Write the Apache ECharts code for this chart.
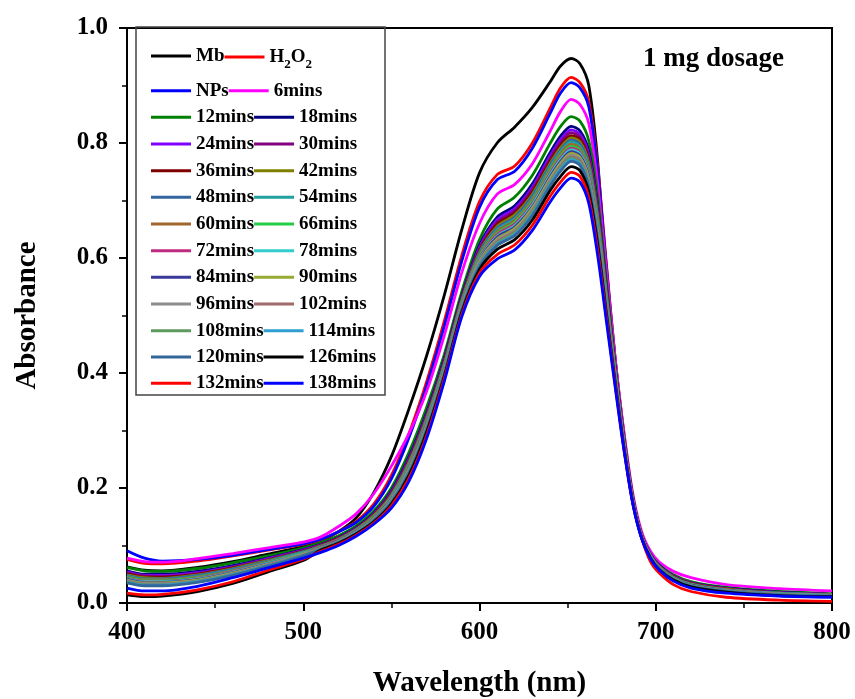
<!DOCTYPE html>
<html><head><meta charset="utf-8">
<script src="https://cdn.jsdelivr.net/npm/echarts@6.0.0/dist/echarts.min.js"></script>
<style>html,body{margin:0;padding:0;background:#fff}#c{width:855px;height:699px}</style>
</head><body><div id="c"></div>
<script>
const wavelengths = [400,410,420,440,460,480,500,510,520,530,540,550,560,570,580,590,600,610,620,630,640,646,652,657,662,667,672,677,682,687,692,697,702,710,720,740,770,800];
const xTicks = [400,500,600,700,800];
const yTicks = [0.0,0.2,0.4,0.6,0.8,1.0];
const seriesNames = ['Mb','H2O2','NPs','6mins','12mins','18mins','24mins','30mins','36mins','42mins','48mins','54mins','60mins','66mins','72mins','78mins','84mins','90mins','96mins','102mins','108mins','114mins','120mins','126mins','132mins','138mins'];
const seriesColors = ['#000000','#FF0000','#0000FF','#FF00FF','#008000','#000080','#8000FF','#800080','#800000','#808000','#3366A0','#20A0A0','#A0662B','#22CC44','#C02A80','#33CCCC','#3A3A9A','#99AA33','#8C8C8C','#A06A6A','#5E9A5E','#2E9FD0','#336699','#000000','#FF0000','#0000FF'];

const mb   = [.063,.057,.056,.062,.072,.085,.098,.107,.124,.148,.192,.255,.338,.430,.535,.650,.748,.800,.828,.862,.906,.934,.947,.938,.900,.770,.560,.405,.282,.178,.113,.080,.062,.044,.032,.023,.016,.012];
const h2o2 = [.076,.069,.068,.073,.082,.092,.102,.110,.124,.142,.172,.222,.295,.385,.490,.605,.698,.745,.760,.800,.860,.896,.914,.905,.872,.760,.590,.425,.293,.185,.118,.082,.062,.046,.035,.026,.019,.014];
const nps  = [.091,.078,.073,.076,.083,.093,.103,.111,.124,.140,.168,.216,.288,.377,.481,.595,.688,.736,.751,.791,.851,.887,.905,.896,.863,.752,.585,.422,.291,.184,.118,.083,.063,.047,.035,.025,.017,.013];
const m6   = [.078,.072,.071,.077,.086,.096,.106,.115,.133,.155,.190,.238,.295,.368,.465,.575,.660,.711,.728,.764,.820,.855,.876,.867,.834,.730,.578,.425,.296,.190,.124,.090,.071,.055,.044,.032,.025,.021];
const m12  = [.062,.056,.055,.060,.070,.082,.096,.105,.117,.134,.160,.200,.262,.340,.432,.542,.632,.685,.706,.744,.799,.829,.846,.838,.804,.710,.562,.415,.288,.184,.119,.085,.066,.049,.037,.027,.020,.016];
const m18  = [.056,.050,.050,.055,.065,.078,.093,.102,.114,.131,.156,.195,.254,.331,.425,.535,.622,.671,.691,.729,.783,.812,.829,.821,.786,.693,.550,.409,.284,.182,.118,.084,.065,.047,.035,.026,.019,.015];
const m24  = [.054,.048,.048,.053,.063,.077,.092,.101,.113,.130,.155,.193,.251,.328,.422,.532,.618,.666,.686,.723,.777,.806,.823,.815,.780,.687,.546,.406,.283,.181,.118,.083,.064,.047,.035,.025,.018,.015];
const m30  = [.052,.047,.046,.051,.062,.076,.091,.101,.113,.129,.154,.191,.249,.326,.420,.531,.615,.662,.682,.719,.772,.801,.818,.810,.775,.682,.543,.405,.282,.181,.117,.083,.063,.046,.034,.025,.018,.015];
const m36  = [.051,.045,.045,.050,.061,.074,.090,.100,.112,.129,.153,.190,.247,.324,.418,.529,.612,.659,.678,.715,.768,.796,.813,.806,.770,.678,.540,.403,.281,.180,.117,.082,.063,.046,.034,.024,.017,.014];
const m42  = [.049,.044,.043,.049,.060,.074,.089,.099,.111,.128,.152,.188,.245,.322,.416,.527,.610,.655,.675,.711,.764,.792,.809,.802,.766,.674,.537,.401,.280,.180,.117,.082,.063,.045,.033,.024,.017,.014];
const m48  = [.048,.042,.042,.048,.059,.073,.089,.099,.111,.127,.151,.187,.243,.320,.414,.525,.608,.652,.671,.708,.761,.788,.805,.798,.762,.670,.534,.400,.279,.179,.116,.082,.062,.045,.033,.023,.017,.014];
const m54  = [.047,.041,.041,.046,.057,.072,.088,.098,.110,.127,.150,.186,.242,.318,.413,.524,.605,.649,.668,.704,.757,.785,.802,.794,.758,.666,.532,.399,.278,.179,.116,.082,.062,.044,.032,.023,.017,.014];
const m60  = [.045,.040,.040,.045,.056,.071,.087,.098,.110,.126,.150,.185,.240,.316,.411,.522,.603,.646,.665,.701,.753,.781,.798,.790,.754,.662,.529,.397,.278,.178,.116,.081,.062,.044,.032,.023,.016,.014];
const m66  = [.044,.039,.039,.044,.055,.070,.087,.097,.109,.125,.149,.184,.238,.314,.410,.521,.601,.643,.662,.698,.750,.777,.794,.787,.751,.659,.527,.396,.277,.178,.116,.081,.061,.044,.032,.022,.016,.013];
const m72  = [.043,.038,.038,.043,.055,.069,.086,.097,.109,.125,.148,.183,.237,.313,.408,.520,.599,.641,.659,.695,.747,.774,.791,.784,.748,.656,.525,.395,.276,.178,.116,.081,.061,.043,.031,.022,.016,.013];
const m78  = [.042,.037,.037,.042,.054,.069,.086,.096,.108,.124,.147,.182,.235,.311,.407,.518,.597,.638,.656,.692,.744,.771,.788,.781,.745,.653,.523,.394,.275,.177,.115,.081,.061,.043,.031,.022,.016,.013];
const m84  = [.041,.036,.036,.041,.053,.068,.085,.096,.108,.124,.147,.181,.234,.310,.406,.517,.595,.636,.654,.689,.741,.768,.785,.778,.742,.650,.521,.392,.275,.177,.115,.080,.061,.043,.031,.022,.015,.013];
const m90  = [.040,.035,.035,.040,.052,.067,.085,.095,.107,.123,.146,.180,.233,.308,.404,.516,.594,.633,.651,.687,.738,.765,.782,.775,.738,.647,.519,.391,.274,.177,.115,.080,.060,.042,.030,.021,.015,.013];
const m96  = [.039,.034,.034,.039,.051,.067,.084,.095,.107,.123,.145,.179,.231,.307,.403,.515,.592,.631,.648,.684,.735,.762,.779,.772,.735,.644,.516,.390,.273,.176,.115,.080,.060,.042,.030,.021,.015,.013];
const m102 = [.038,.033,.033,.038,.050,.066,.083,.094,.106,.122,.145,.178,.230,.305,.401,.513,.590,.628,.646,.681,.732,.759,.776,.769,.732,.641,.514,.389,.273,.176,.115,.080,.060,.042,.030,.021,.015,.012];
const m108 = [.037,.032,.032,.038,.050,.065,.083,.094,.106,.122,.144,.177,.229,.304,.400,.512,.588,.626,.644,.679,.730,.757,.774,.766,.730,.638,.513,.388,.272,.176,.114,.079,.059,.042,.030,.021,.014,.012];
const m114 = [.036,.031,.031,.037,.049,.065,.082,.093,.105,.122,.144,.176,.227,.302,.399,.511,.587,.624,.641,.676,.728,.754,.771,.764,.727,.636,.511,.387,.272,.175,.114,.079,.059,.041,.029,.020,.014,.012];
const m120 = [.035,.030,.030,.036,.048,.064,.082,.093,.105,.121,.143,.175,.226,.301,.398,.510,.585,.622,.639,.674,.725,.751,.768,.761,.724,.633,.509,.386,.271,.175,.114,.079,.059,.041,.029,.020,.014,.012];
const m126 = [.014,.011,.012,.020,.034,.054,.074,.092,.104,.120,.141,.172,.222,.297,.394,.506,.580,.615,.632,.666,.717,.742,.759,.752,.715,.625,.503,.383,.269,.174,.113,.078,.058,.040,.028,.019,.013,.011];
const m132 = [.017,.014,.015,.023,.037,.057,.076,.090,.102,.118,.139,.169,.217,.291,.390,.502,.574,.606,.623,.657,.707,.732,.749,.742,.705,.615,.497,.379,.267,.173,.113,.072,.052,.032,.020,.010,.005,.003];
const m138 = [.026,.021,.021,.029,.044,.061,.078,.088,.100,.116,.137,.165,.212,.286,.385,.498,.568,.598,.614,.648,.697,.722,.739,.732,.695,.605,.490,.375,.265,.172,.112,.077,.057,.038,.026,.017,.012,.010];

const allValues = [mb,h2o2,nps,m6,m12,m18,m24,m30,m36,m42,m48,m54,m60,m66,m72,m78,m84,m90,m96,m102,m108,m114,m120,m126,m132,m138];

const FONT = '"Liberation Serif","Times New Roman",serif';
const chart = echarts.init(document.getElementById('c'), null, {renderer:'canvas'});

const series = seriesNames.map((n,k)=>({
  name:n, type:'line', smooth:0.3, symbol:'none', showSymbol:false,
  data: wavelengths.map((w,i)=>[w, allValues[k][i]]),
  lineStyle:{width:2.8, color:seriesColors[k]},
  itemStyle:{color:seriesColors[k]},
  emphasis:{disabled:true}, animation:false
}));

const legendRows = [
  [['Mb'],151,56],[['H2O2'],224.5,56],
  [['NPs','6mins'],151,90.7],[['12mins','18mins'],151,117.3],[['24mins','30mins'],151,144],
  [['36mins','42mins'],151,170.7],[['48mins','54mins'],151,197.3],[['60mins','66mins'],151,224],
  [['72mins','78mins'],151,250.7],[['84mins','90mins'],151,277.3],[['96mins','102mins'],151,304],
  [['108mins','114mins'],151,330.7],[['120mins','126mins'],151,357],[['132mins','138mins'],151,383.3]
];
const txt = {fontFamily:FONT, fontWeight:'bold', fontSize:19, color:'#000',
  rich:{s:{fontFamily:FONT, fontWeight:'bold', fontSize:13, color:'#000', verticalAlign:'bottom', padding:[16,0,0,0]}}};
const legends = legendRows.map(([names,left,cy])=>({
  data:names, left:left, top: (names[0]==='H2O2' ? cy-8.5 : cy-9.5), orient:'horizontal',
  itemGap:0, itemWidth:40, itemHeight:3, icon:'rect', padding:0, selectedMode:false,
  textStyle:txt,
  formatter:(n)=> n==='H2O2' ? 'H{s|2}O{s|2}' : n
}));

const axisText = {fontFamily:FONT, fontWeight:'bold', fontSize:25, color:'#000'};
const nameText = {fontFamily:FONT, fontWeight:'bold', fontSize:29, color:'#000'};

chart.setOption({
  animation:false,
  backgroundColor:'#fff',
  grid:{left:127, right:23, top:28, bottom:96, outerBoundsMode:'none', containLabel:false, show:true, borderColor:'#000', borderWidth:2, backgroundColor:'transparent'},
  xAxis:{type:'value', min:xTicks[0], max:xTicks[xTicks.length-1], interval:100,
    axisLine:{show:true, onZero:false, lineStyle:{color:'#000', width:2}},
    axisTick:{show:true, inside:false, length:8, lineStyle:{color:'#000', width:2}},
    minorTick:{show:true, splitNumber:2, length:5, lineStyle:{color:'#000', width:1.5}},
    splitLine:{show:false}, minorSplitLine:{show:false},
    axisLabel:Object.assign({margin:17, showMinLabel:true, showMaxLabel:true}, axisText),
    name:'Wavelength (nm)', nameLocation:'middle', nameGap:66, nameTextStyle:nameText},
  yAxis:{type:'value', min:yTicks[0], max:yTicks[yTicks.length-1], interval:0.2,
    axisLine:{show:true, onZero:false, lineStyle:{color:'#000', width:2}},
    axisTick:{show:true, inside:false, length:8, lineStyle:{color:'#000', width:2}},
    minorTick:{show:true, splitNumber:2, length:5, lineStyle:{color:'#000', width:1.5}},
    splitLine:{show:false}, minorSplitLine:{show:false},
    axisLabel:Object.assign({margin:19, showMinLabel:true, showMaxLabel:true, formatter:(v)=>v.toFixed(1)}, axisText),
    name:'Absorbance', nameLocation:'middle', nameGap:85, nameRotate:90, nameTextStyle:nameText},
  legend:legends,
  graphic:[
    {type:'rect', shape:{x:136, y:27, width:249, height:368}, style:{fill:'none', stroke:'#444', lineWidth:1.5}, z:1},
    {type:'text', left:643, top:46, style:{text:'1 mg dosage', font:'bold 27px '+FONT, fill:'#000'}}
  ],
  series:series
});
</script></body></html>
